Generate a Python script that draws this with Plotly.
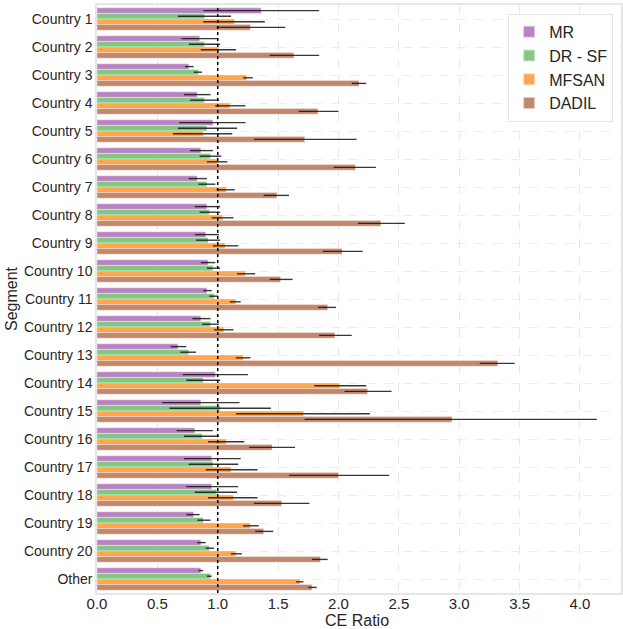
import plotly.graph_objects as go

categories = [f"Country {i}" for i in range(1, 21)] + ["Other"]

mr_val = [1.36, 0.85, 0.76, 0.83, 0.96, 0.86, 0.83, 0.91, 0.90, 0.92, 0.91, 0.86, 0.67, 0.98, 0.86, 0.81, 0.95, 0.95, 0.80, 0.86, 0.86]
mr_lo  = [0.88, 0.70, 0.73, 0.72, 0.68, 0.77, 0.76, 0.81, 0.81, 0.86, 0.88, 0.79, 0.61, 0.71, 0.54, 0.66, 0.72, 0.74, 0.74, 0.83, 0.84]
mr_hi  = [1.84, 1.00, 0.80, 0.94, 1.23, 0.96, 0.91, 1.02, 1.01, 0.98, 0.95, 0.94, 0.74, 1.25, 1.18, 0.96, 1.19, 1.17, 0.85, 0.90, 0.88]

dr_val = [0.89, 0.89, 0.84, 0.89, 0.91, 0.94, 0.91, 0.93, 0.92, 0.96, 0.97, 0.94, 0.76, 0.88, 1.02, 0.87, 0.96, 0.99, 0.88, 0.93, 0.94]
dr_lo  = [0.67, 0.76, 0.80, 0.77, 0.67, 0.85, 0.84, 0.85, 0.82, 0.91, 0.93, 0.87, 0.69, 0.74, 0.60, 0.72, 0.76, 0.81, 0.83, 0.90, 0.91]
dr_hi  = [1.11, 1.02, 0.87, 1.01, 1.16, 1.03, 0.98, 1.02, 1.02, 1.02, 1.00, 1.01, 0.82, 1.02, 1.44, 1.01, 1.17, 1.16, 0.94, 0.97, 0.95]

mf_val = [1.14, 1.01, 1.24, 1.10, 0.88, 1.00, 1.07, 1.04, 1.06, 1.23, 1.15, 1.05, 1.21, 2.01, 1.71, 1.07, 1.11, 1.13, 1.27, 1.15, 1.68]
mf_lo  = [0.88, 0.86, 1.21, 0.98, 0.63, 0.91, 0.99, 0.95, 0.96, 1.16, 1.10, 0.97, 1.15, 1.80, 1.15, 0.92, 0.90, 0.92, 1.21, 1.11, 1.65]
mf_hi  = [1.39, 1.15, 1.29, 1.23, 1.12, 1.08, 1.14, 1.13, 1.17, 1.31, 1.19, 1.13, 1.27, 2.23, 2.26, 1.22, 1.33, 1.33, 1.34, 1.20, 1.71]

da_val = [1.27, 1.63, 2.17, 1.83, 1.72, 2.14, 1.49, 2.35, 2.03, 1.52, 1.91, 1.97, 3.32, 2.24, 2.94, 1.45, 2.00, 1.53, 1.38, 1.85, 1.78]
da_lo  = [0.99, 1.43, 2.11, 1.67, 1.30, 1.96, 1.38, 2.16, 1.87, 1.43, 1.83, 1.84, 3.17, 2.05, 1.72, 1.26, 1.59, 1.30, 1.31, 1.78, 1.75]
da_hi  = [1.56, 1.84, 2.23, 2.00, 2.15, 2.31, 1.59, 2.55, 2.20, 1.62, 1.98, 2.11, 3.46, 2.44, 4.14, 1.64, 2.42, 1.76, 1.46, 1.91, 1.82]

series = [
    ("MR", mr_val, mr_lo, mr_hi, "#b983c2"),
    ("DR - SF", dr_val, dr_lo, dr_hi, "#83c883"),
    ("MFSAN", mf_val, mf_lo, mf_hi, "#ffa64f"),
    ("DADIL", da_val, da_lo, da_hi, "#c2886b"),
]

fig = go.Figure()
for name, val, lo, hi, col in series:
    fig.add_trace(go.Bar(
        name=name, y=categories, x=val, orientation="h",
        marker=dict(color=col, line=dict(color="rgba(255,255,255,0.6)", width=0.6)),
        error_x=dict(type="data", symmetric=False,
                     array=[h - v for h, v in zip(hi, val)],
                     arrayminus=[v - l for v, l in zip(val, lo)],
                     color="rgba(20,20,20,0.85)", thickness=1.4, width=0),
    ))

fig.add_shape(type="line", xref="x", yref="paper", x0=1, x1=1, y0=0, y1=1,
              line=dict(color="black", width=1.5, dash="dot"))

fig.add_annotation(text="CE Ratio", xref="x", yref="paper", x=2.15, y=0,
                   yshift=-18, yanchor="top", showarrow=False, borderpad=0,
                   font=dict(size=16, color="#262626"))

fig.update_layout(
    width=623, height=629,
    barmode="group", bargap=0.2, bargroupgap=0,
    paper_bgcolor="white", plot_bgcolor="white",
    font=dict(family="Liberation Sans, Arial, sans-serif", color="#262626"),
    margin=dict(l=97, r=2, t=5, b=36),
    legend=dict(x=0.985, y=0.985, xanchor="right", yanchor="top",
                font=dict(size=16), bgcolor="rgba(255,255,255,0.9)",
                bordercolor="#e6e6e6", borderwidth=1, traceorder="normal",
                itemsizing="constant"),
    xaxis=dict(range=[0, 4.34], dtick=0.5, tickformat=".1f",
               tickfont=dict(size=15), showgrid=True, gridcolor="#e8e8e8",
               griddash="dash", gridwidth=1, zeroline=False,
               showline=True, linecolor="#e6e6e6", linewidth=1.5, mirror=True,
               ticks="", automargin=False, ticklabelstandoff=-4),
    yaxis=dict(categoryorder="array", categoryarray=categories, autorange="reversed",
               tickfont=dict(size=14), showgrid=True, gridcolor="#ededed",
               griddash="dash", gridwidth=1, automargin=False,
               showline=True, linecolor="#e6e6e6", linewidth=1.5, mirror=True,
               ticks="", ticklabelstandoff=0,
               title=dict(text="Segment", font=dict(size=16), standoff=2)),
)

fig.write_html("out.html", config={"displayModeBar": False},
               post_script="document.body.style.margin='0';document.body.style.overflow='hidden';")
